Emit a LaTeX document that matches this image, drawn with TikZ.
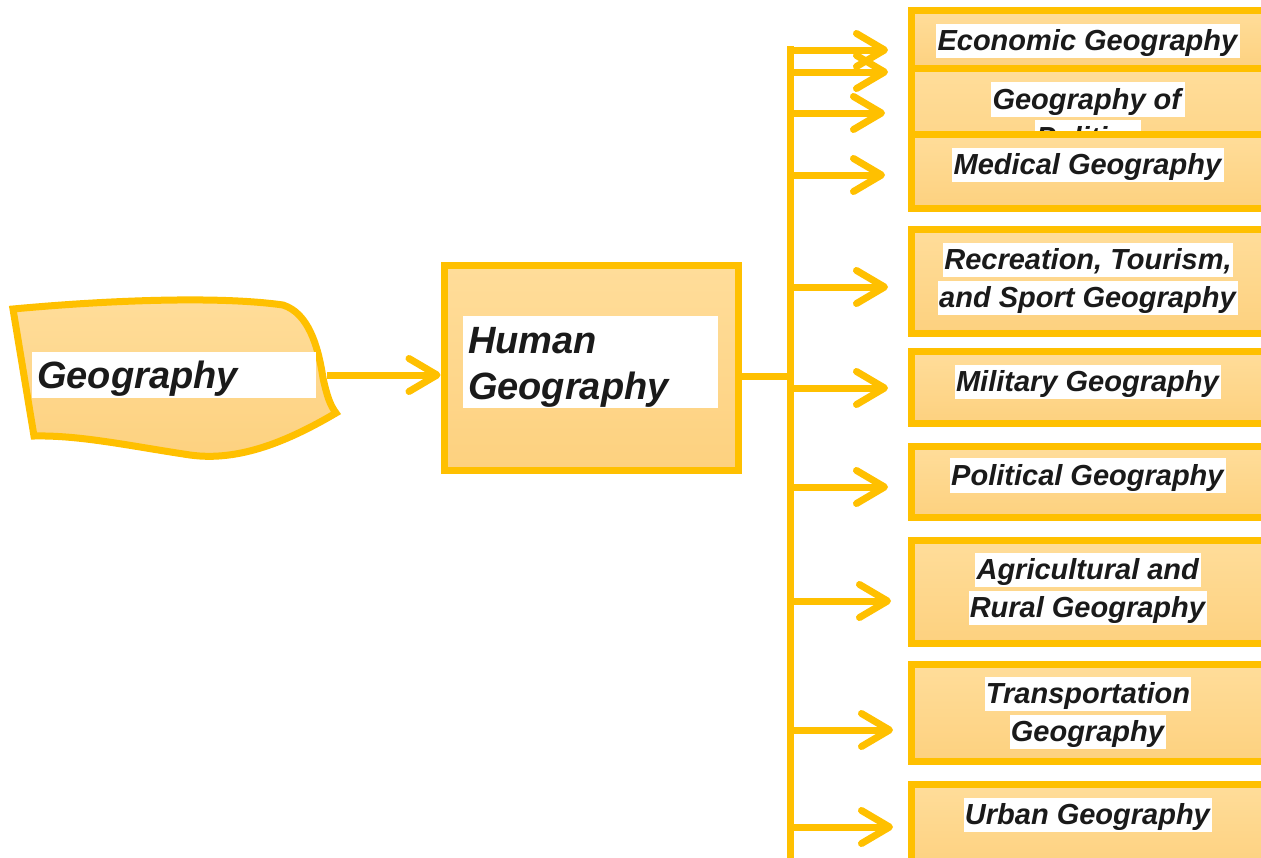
\documentclass[tikz,border=0pt]{standalone}
\usepackage{fontspec}
\setmainfont{Liberation Sans}
\usetikzlibrary{arrows.meta}
\definecolor{gold}{HTML}{FFC000}
\definecolor{fillTop}{HTML}{FFDD9A}
\definecolor{fillBot}{HTML}{FDD17F}
\definecolor{ink}{HTML}{1A1A1A}
\newcommand{\wl}[1]{{\setlength{\fboxsep}{1.2pt}\colorbox{white}{\rule[-0.22em]{0pt}{1.12em}#1\/}}}
\begin{document}
\begin{tikzpicture}[x=1pt,y=-1pt,
  gbox/.style={draw=gold, line width=7pt, top color=fillTop, bottom color=fillBot, rectangle, inner sep=0pt},
  rtext/.style={font=\fontsize{29}{38}\selectfont\bfseries\itshape, text=ink, align=center, inner sep=0pt},
  bigtext/.style={fill=white, inner xsep=5pt, inner ysep=0pt, align=left, text=ink, font=\fontsize{38}{46}\selectfont\bfseries\itshape},
  conn/.style={draw=gold, line width=7pt},
  arr/.style={draw=gold, line width=7pt, -{Straight Barb[length=28pt,width=33pt,round]}}
]
\useasboundingbox (0,0) rectangle (1261,857);
\clip (0,0) rectangle (1261,857);

% Geography shape
\path[draw=gold, line width=7pt, top color=fillTop, bottom color=fillBot]
  (13,309) .. controls (110,300) and (220,296) .. (283,305)
  .. controls (308,313) and (318,345) .. (323,378)
  .. controls (327,396) and (330,405) .. (336,413)
  .. controls (290,440) and (240,462) .. (190,455)
  .. controls (130,446) and (80,435) .. (34,436)
  -- cycle;
\node[bigtext, anchor=west, minimum height=46pt, text width=274pt, text height=34pt, text depth=8pt] (geotxt) at (32,375) {Geography};
\coordinate (geoE) at (327,375);

% Human Geography
\node[gbox, minimum width=294pt, minimum height=205pt] (human) at (591,367.5) {};
\node[bigtext, minimum height=92pt, text width=245pt] (humtxt) at (590.5,362) {\rule{0pt}{37pt}Human\\Geography};

\draw[arr] (geoE) -- (geoE -| human.west);

% trunk
\coordinate (ttop) at (790,46);
\coordinate (tbot) at (790,870);
\coordinate (tmid) at (790,376);
\draw[conn] (ttop) -- (tbot);
\draw[conn] (tmid -| human.east) -- (tmid);

% right boxes (drawn in order so later boxes overlap earlier ones)
\node[gbox, minimum width=359pt, minimum height=60pt] (econ) at (1090.5,40) {};
\node[rtext] (econtxt) at (1088,41) {\wl{Economic Geography}};
\node[gbox, minimum width=359pt, minimum height=122pt] (geoof) at (1090.5,129) {};
\node[rtext] (geooftxt) at (1088,118.5) {\wl{Geography of}\\\wl{Politics}};
\node[gbox, minimum width=359pt, minimum height=74pt] (med) at (1090.5,171) {};
\node[rtext] (medtxt) at (1088,165) {\wl{Medical Geography}};
\node[gbox, minimum width=359pt, minimum height=104pt] (rec) at (1090.5,281) {};
\node[rtext] (rectxt) at (1088,279) {\wl{Recreation, Tourism,}\\\wl{and Sport Geography}};
\node[gbox, minimum width=359pt, minimum height=72pt] (mil) at (1090.5,387) {};
\node[rtext] (miltxt) at (1088,382) {\wl{Military Geography}};
\node[gbox, minimum width=359pt, minimum height=71pt] (pol) at (1090.5,481.5) {};
\node[rtext] (poltxt) at (1088,475.5) {\wl{Political Geography}};
\node[gbox, minimum width=359pt, minimum height=103pt] (agr) at (1090.5,591.5) {};
\node[rtext] (agrtxt) at (1088,589) {\wl{Agricultural and}\\\wl{Rural Geography}};
\node[gbox, minimum width=359pt, minimum height=97pt] (tra) at (1090.5,712.5) {};
\node[rtext] (tratxt) at (1088,713) {\wl{Transportation}\\\wl{Geography}};
\node[gbox, minimum width=359pt, minimum height=86pt] (urb) at (1090.5,827) {};
\node[rtext] (urbtxt) at (1088,815) {\wl{Urban Geography}};

% branches
\foreach \i/\y/\tx in {1/50/888, 2/72/888, 3/113/885, 4/175/885, 5/287/888, 6/388/888, 7/487/888, 8/601/891, 9/730/893, 10/827/893} {
  \coordinate (b\i) at (790,\y);
  \coordinate (a\i) at (\tx,\y);
  \draw[arr] (b\i) -- (a\i);
}
\end{tikzpicture}
\end{document}
